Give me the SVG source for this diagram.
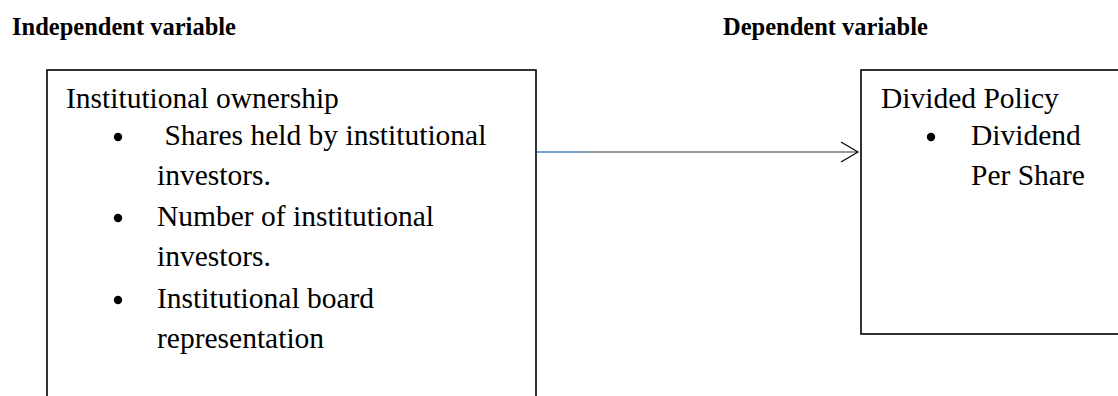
<svg xmlns="http://www.w3.org/2000/svg" width="1118" height="396" viewBox="0 0 1118 396">
  <style>
    .hdr { font-family: "Liberation Serif", "Times New Roman", serif; font-weight: bold; font-size: 24.5px; fill: #000; }
    .body { font-family: "Liberation Serif", "Times New Roman", serif; font-size: 29.5px; fill: #000; }
    .box { fill: #fff; stroke: #000; stroke-width: 1.6; }
    .bullet { fill: #000; }
  </style>
  <rect width="1118" height="396" fill="#fff"/>
  <g id="header-independent">
    <text class="hdr" x="12" y="35">Independent variable</text>
  </g>
  <g id="header-dependent">
    <text class="hdr" x="723" y="35">Dependent variable</text>
  </g>
  <g id="node-institutional-ownership">
    <rect class="box" x="47" y="70" width="489" height="340"/>
    <text class="body" x="66" y="108">Institutional ownership</text>
    <circle class="bullet" cx="118" cy="137" r="4.2"/>
    <text class="body" x="157" y="145" xml:space="preserve"> Shares held by institutional</text>
    <text class="body" x="157" y="185">investors.</text>
    <circle class="bullet" cx="118" cy="218" r="4.2"/>
    <text class="body" x="157" y="226">Number of institutional</text>
    <text class="body" x="157" y="266">investors.</text>
    <circle class="bullet" cx="118" cy="300" r="4.2"/>
    <text class="body" x="157" y="308">Institutional board</text>
    <text class="body" x="157" y="348">representation</text>
  </g>
  <g id="node-dividend-policy">
    <rect class="box" x="861" y="70" width="270" height="264"/>
    <text class="body" x="881" y="108">Divided Policy</text>
    <circle class="bullet" cx="931" cy="137" r="4.2"/>
    <text class="body" x="971" y="145">Dividend</text>
    <text class="body" x="971" y="185">Per Share</text>
  </g>
  <g id="connectors">
    <line x1="536" y1="152" x2="858" y2="152" stroke="#333" stroke-width="1.2"/>
    <line x1="537" y1="152" x2="588" y2="152" stroke="#6fa8dc" stroke-width="1.4"/>
    <polyline points="841,142 858,152 841,162" fill="none" stroke="#000" stroke-width="1.2"/>
  </g>
</svg>
